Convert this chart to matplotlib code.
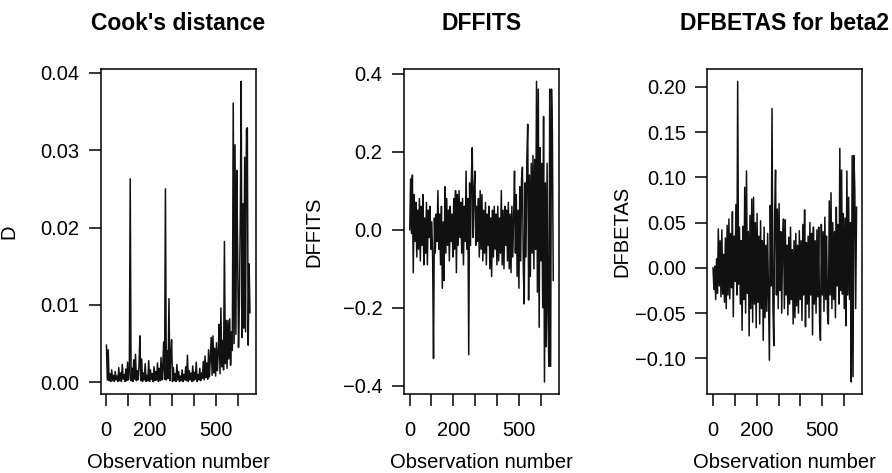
import matplotlib
matplotlib.use('Agg')
import matplotlib.pyplot as plt
import numpy as np

# number of observations in the fitted model
n_obs = 656

# Cook's distance (in units of 1e-3), read roughly every 4th observation
cooks_d_x1000 = [
    4.8, 0.3, 4.2, 0.2, 1.1, 0.1, 1.6, 0.2, 0.9, 0.1, 1.4, 0.3, 0.8, 0.1, 1.9, 0.2,
    1.2, 0.1, 2.3, 0.4, 1.0, 0.1, 1.7, 0.2, 2.6, 0.3, 1.3, 26.3, 0.2, 1.8, 0.1, 2.9,
    0.4, 3.6, 0.2, 1.5, 0.3, 2.2, 6.0, 0.2, 3.0, 0.1, 1.2, 0.3, 2.4, 0.1, 0.9, 0.2,
    2.8, 0.1, 1.6, 0.4, 1.1, 0.1, 2.0, 0.2, 1.4, 0.3, 2.5, 0.1, 1.8, 0.2, 3.2, 0.3,
    2.1, 5.2, 0.4, 25.0, 0.3, 4.1, 0.5, 10.8, 0.2, 3.4, 5.5, 0.1, 1.9, 0.2, 1.1, 0.1,
    2.3, 0.3, 1.4, 0.1, 0.8, 0.2, 1.6, 0.1, 1.0, 0.3, 2.0, 0.2, 3.5, 0.1, 1.5, 0.3,
    1.2, 0.1, 2.1, 0.2, 1.3, 0.4, 2.6, 0.1, 1.0, 0.3, 1.8, 0.2, 1.2, 0.5, 2.7, 0.3,
    3.4, 0.6, 2.5, 0.4, 4.2, 0.7, 3.1, 5.8, 0.9, 6.0, 1.2, 4.4, 0.8, 5.1, 1.5, 3.8,
    7.5, 1.1, 9.6, 2.0, 5.4, 1.6, 18.2, 2.4, 8.0, 1.8, 8.0, 3.0, 8.2, 2.2, 6.5, 4.1,
    36.1, 5.0, 30.7, 6.2, 27.4, 16.9, 4.5, 10.2, 21.0, 38.9, 5.8, 23.1, 7.0, 29.1, 6.5, 32.7,
    32.9, 4.8, 15.3, 9.0,
]

dffits = [
    0.00, 0.13, -0.01, 0.14, -0.11, 0.09, -0.03, 0.07, -0.07, 0.05, -0.05, 0.08, -0.08, 0.06, -0.04, 0.09,
    -0.09, 0.03, -0.06, 0.07, -0.09, 0.05, -0.02, 0.06, -0.05, 0.02, -0.07, -0.33, 0.03, -0.06, 0.04, -0.03,
    0.10, -0.05, 0.04, -0.09, 0.06, -0.15, 0.02, -0.13, 0.11, -0.06, 0.08, -0.04, 0.05, -0.08, 0.06, -0.03,
    0.04, -0.07, 0.08, -0.05, 0.10, -0.11, 0.09, -0.04, 0.10, -0.02, 0.07, -0.06, 0.08, -0.09, 0.06, -0.03,
    0.15, -0.05, 0.08, -0.32, 0.12, -0.04, 0.13, 0.21, -0.02, 0.10, 0.15, -0.04, 0.06, -0.03, 0.08, -0.07,
    0.10, -0.05, 0.09, -0.08, 0.05, -0.06, 0.07, -0.09, 0.04, -0.04, 0.06, -0.10, 0.03, -0.12, 0.05, -0.07,
    0.06, -0.05, 0.04, -0.09, 0.06, -0.08, 0.03, -0.06, 0.10, -0.09, 0.05, -0.10, 0.06, -0.04, 0.05, -0.08,
    0.07, -0.10, 0.04, -0.11, 0.06, -0.07, 0.03, 0.15, -0.06, 0.09, -0.12, 0.05, -0.15, 0.11, -0.08, 0.13,
    0.16, -0.10, -0.19, 0.12, -0.07, 0.18, 0.27, -0.18, 0.14, -0.12, 0.17, -0.06, 0.19, -0.10, 0.18, -0.05,
    0.38, -0.16, 0.36, -0.25, 0.21, -0.08, 0.17, -0.20, 0.29, -0.39, 0.12, -0.30, 0.17, -0.21, -0.35, 0.36,
    -0.35, 0.36, 0.25, -0.13,
]

dfbetas_beta2 = [
    0.000, -0.024, 0.002, -0.035, 0.010, -0.028, 0.043, -0.020, 0.030, -0.032, 0.042, -0.029, 0.015, -0.038, 0.033, -0.045,
    0.047, -0.030, 0.054, -0.034, 0.038, -0.022, 0.062, -0.054, 0.035, -0.015, 0.070, -0.030, 0.206, -0.018, 0.045, -0.040,
    0.030, -0.069, 0.046, -0.035, 0.089, -0.050, 0.107, -0.028, 0.040, -0.075, 0.058, -0.045, 0.076, -0.060, 0.078, -0.040,
    0.050, -0.066, 0.060, -0.038, 0.035, -0.062, 0.052, -0.045, 0.030, -0.080, 0.045, -0.055, 0.025, -0.048, 0.038, -0.035,
    -0.102, 0.069, -0.020, 0.176, -0.040, -0.086, 0.060, 0.108, -0.030, 0.065, -0.045, 0.071, -0.025, 0.040, -0.050, 0.030,
    0.054, -0.045, 0.053, -0.030, 0.025, -0.052, 0.034, -0.040, 0.045, -0.035, 0.020, -0.062, 0.030, -0.055, 0.038, -0.042,
    0.025, -0.050, 0.041, -0.035, 0.030, -0.058, 0.048, -0.030, 0.064, -0.065, 0.028, -0.040, 0.035, -0.055, 0.050, -0.030,
    0.038, -0.074, 0.045, -0.040, 0.030, -0.050, 0.042, -0.032, 0.045, -0.060, -0.080, 0.048, -0.030, 0.040, -0.048, 0.056,
    -0.035, 0.035, -0.050, -0.062, 0.074, -0.030, 0.083, -0.045, 0.050, -0.035, 0.040, -0.055, 0.067, -0.020, 0.048, -0.040,
    0.132, -0.025, 0.108, -0.029, 0.060, -0.045, 0.055, -0.064, 0.107, -0.030, 0.078, -0.035, 0.050, -0.126, 0.124, -0.120,
    0.124, 0.087, -0.045, 0.067,
]

titles = ["Cook's distance", "DFFITS", "DFBETAS for beta2"]
ylabels = ["D", "DFFITS", "DFBETAS"]

xticks = [0, 100, 200, 300, 400, 500, 600]
xtick_labels = ['0', '', '200', '', '', '500', '']

yticks_cook = [0.00, 0.01, 0.02, 0.03, 0.04]
ytick_labels_cook = ['0.00', '0.01', '0.02', '0.03', '0.04']
yticks_dffits = [-0.4, -0.2, 0.0, 0.2, 0.4]
ytick_labels_dffits = ['\u22120.4', '\u22120.2', '0.0', '0.2', '0.4']
yticks_dfbetas = [-0.10, -0.05, 0.00, 0.05, 0.10, 0.15, 0.20]
ytick_labels_dfbetas = ['\u22120.10', '\u22120.05', '0.00', '0.05', '0.10', '0.15', '0.20']

plt.rcParams['font.family'] = ['Liberation Sans', 'DejaVu Sans']

W, H = 892, 473


def r_lim(lo, hi):
    # R style axis range: 4% padding on both sides
    pad = 0.04 * (hi - lo)
    return lo - pad, hi + pad


def draw_panel(fig, box, values, title, ylabel, yticks, ytick_labels, ylabel_x):
    x0, x1, top, bottom = box
    ax = fig.add_axes([x0 / W, (H - bottom) / H, (x1 - x0) / W, (bottom - top) / H])
    values = np.asarray(values)
    obs = np.linspace(1, n_obs, len(values))
    ax.plot(obs, values, color='#111111', lw=1.1)

    ax.set_xlim(*r_lim(1, n_obs))
    ax.set_ylim(*r_lim(values.min(), values.max()))
    ax.set_xticks(xticks)
    ax.set_xticklabels(xtick_labels)
    ax.set_yticks(yticks)
    ax.set_yticklabels(ytick_labels)
    ax.tick_params(axis='x', length=8.5, width=1.1, pad=11, labelsize=14.5, direction='out')
    ax.tick_params(axis='y', length=8.5, width=1.1, pad=7, labelsize=14.5, direction='out')
    for s in ax.spines.values():
        s.set_linewidth(1.1)

    ax.set_title(title, fontsize=16.5, fontweight='bold', pad=28)
    ax.set_xlabel('Observation number', fontsize=14.5)
    ax.xaxis.set_label_coords(0.5, -0.182)
    ax.set_ylabel(ylabel, fontsize=14.5)
    ax.yaxis.set_label_coords(ylabel_x, 0.5)
    return ax


fig = plt.figure(figsize=(W / 100, H / 100), dpi=100)

draw_panel(fig, (100.7, 255.7, 69.3, 393.5), np.asarray(cooks_d_x1000) / 1000,
           titles[0], ylabels[0], yticks_cook, ytick_labels_cook, -0.53)
draw_panel(fig, (404, 559, 69.3, 394), dffits,
           titles[1], ylabels[1], yticks_dffits, ytick_labels_dffits, -0.52)
draw_panel(fig, (707.3, 862.3, 69.3, 394), dfbetas_beta2,
           titles[2], ylabels[2], yticks_dfbetas, ytick_labels_dfbetas, -0.49)

fig.savefig('out.png', dpi=100)
